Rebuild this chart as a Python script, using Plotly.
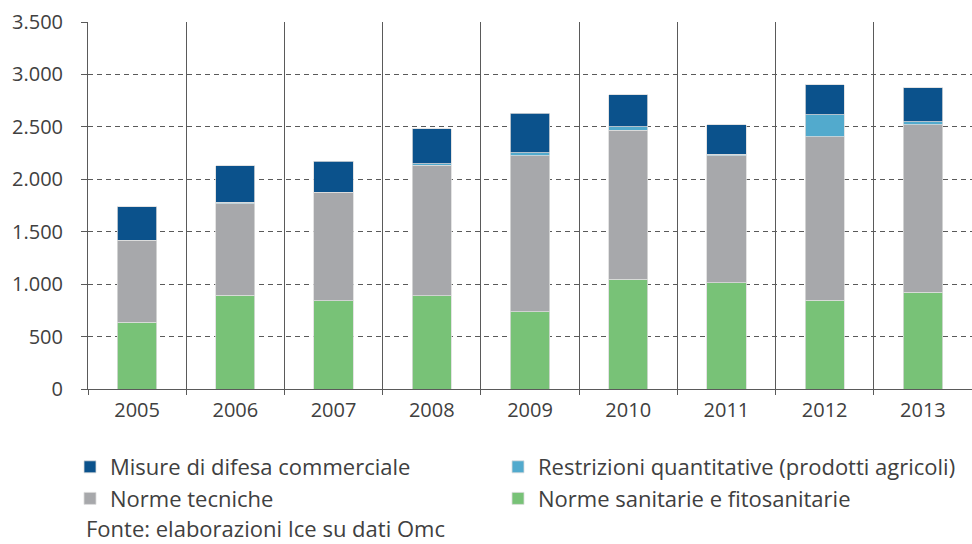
import plotly.graph_objects as go

years = ["2005", "2006", "2007", "2008", "2009", "2010", "2011", "2012", "2013"]
sanitarie = [639, 896, 842, 887, 737, 1049, 1011, 845, 925]
tecniche = [775, 871, 1033, 1246, 1488, 1421, 1214, 1561, 1596]
restrizioni = [3, 13, 3, 16, 28, 32, 16, 210, 29]
difesa = [322, 350, 296, 333, 379, 305, 280, 286, 323]

names = {
    "difesa": "Misure di difesa commerciale",
    "restrizioni": "Restrizioni quantitative (prodotti agricoli)",
    "tecniche": "Norme tecniche",
    "sanitarie": "Norme sanitarie e fitosanitarie",
}
colors = {
    "difesa": "#0b528c",
    "restrizioni": "#52aacd",
    "tecniche": "#a7a8ab",
    "sanitarie": "#78c277",
}

FONT = "Open Sans"
TXT = "#404040"
GRID = "#5a5a5a"

fig = go.Figure()
for key, vals, rank, leg in [("sanitarie", sanitarie, 2, "legend2"),
                             ("tecniche", tecniche, 2, "legend"),
                             ("restrizioni", restrizioni, 1, "legend2"),
                             ("difesa", difesa, 1, "legend")]:
    fig.add_trace(go.Bar(
        x=years, y=vals, name=names[key], legendrank=rank, legend=leg,
        marker=dict(color=colors[key], line=dict(color="#dcdcdc", width=0.8)),
        width=0.4,
    ))

leg_common = dict(
    orientation="v", xref="container", yref="container",
    xanchor="left", y=1 - 446 / 544, yanchor="top",
    itemwidth=30, traceorder="normal",
    font=dict(family=FONT, size=22, color=TXT),
    bgcolor="rgba(0,0,0,0)",
)

fig.update_layout(
    width=972, height=544,
    barmode="stack",
    separators=",.",
    paper_bgcolor="white", plot_bgcolor="white",
    margin=dict(l=88, r=0, t=22, b=155, autoexpand=False),
    font=dict(family=FONT, size=20, color=TXT),
    showlegend=True,
    legend=dict(x=70 / 972, **leg_common),
    legend2=dict(x=498 / 972, **leg_common),
    xaxis=dict(
        showgrid=True, gridcolor=GRID, gridwidth=1,
        tickson="boundaries", ticks="outside", ticklen=5, tickcolor=GRID,
        showline=True, linecolor=GRID, linewidth=1,
        automargin=False, ticklabelstandoff=3,
        tickfont=dict(family=FONT, size=20, color=TXT),
    ),
    yaxis=dict(
        range=[0, 3500], dtick=500, tickformat=",d",
        showgrid=True, gridcolor=GRID, gridwidth=1, griddash="5px,4px",
        zeroline=False,
        ticks="outside", ticklen=6, tickcolor=GRID,
        showline=True, linecolor=GRID, linewidth=1,
        ticklabelstandoff=14, automargin=False,
        tickfont=dict(family=FONT, size=20, color=TXT),
    ),
    annotations=[dict(
        text="Fonte: elaborazioni Ice su dati Omc",
        xref="paper", yref="paper", x=-0.003, y=(389 - 528) / 367,
        xanchor="left", yanchor="middle", showarrow=False, borderpad=0,
        font=dict(family=FONT, size=22, color=TXT),
    )],
)

fig.write_html(
    "out.html",
    config={"displayModeBar": False},
    post_script="document.body.style.margin='0';document.body.style.overflow='hidden';",
)
